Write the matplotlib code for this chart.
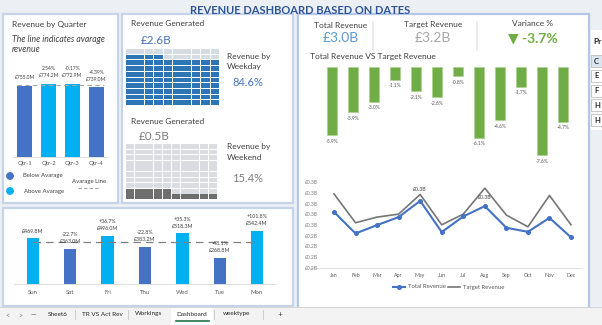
import matplotlib
matplotlib.use("Agg")
import matplotlib.pyplot as plt
from matplotlib.patches import Rectangle, Circle

plt.rcParams['font.family'] = ['Lato', 'DejaVu Sans']

# ---------------- data ----------------
quarters = ['Qtr-1', 'Qtr-2', 'Qtr-3', 'Qtr-4']
q_rev = [755.0, 774.2, 772.9, 739.0]          # £M
q_pct = ['', '2.54%', '-0.17%', '-4.39%']

waffle_pct = [84.6, 15.4]                      # weekday, weekend
waffle_amount = ['£2.6B', '£0.5B']

days = ['Sun', 'Sat', 'Fri', 'Thu', 'Wed', 'Tue', 'Mon']
day_rev = [469.8, 363.0, 496.0, 383.2, 518.3, 268.8, 542.4]   # £M
day_pct = ['', '-22.7%', '+36.7%', '-22.8%', '+35.3%', '-48.1%', '+101.8%']

months = ['Jan', 'Feb', 'Mar', 'Apr', 'May', 'Jun', 'Jul', 'Aug', 'Sep', 'Oct', 'Nov', 'Dec']
var_pct = [-5.9, -3.9, -3.0, -1.1, -2.1, -2.6, -0.8, -6.1, -4.6, -1.7, -7.6, -4.7]
total_rev = [0.2623, 0.2421, 0.2499, 0.2574, 0.2726, 0.2434, 0.2580, 0.2677, 0.2474, 0.2436, 0.2567, 0.2384]  # £B
target_rev = [0.2792, 0.2521, 0.2574, 0.2602, 0.2786, 0.2502, 0.2602, 0.2845, 0.2593, 0.2483, 0.2777, 0.2502]  # £B
line_yticks = [0.21, 0.22, 0.23, 0.24, 0.25, 0.26, 0.27, 0.28, 0.29]
line_yticklabels = ['£0.2B', '£0.2B', '£0.2B', '£0.2B', '£0.3B', '£0.3B', '£0.3B', '£0.3B', '£0.3B']

kpi_total = '£3.0B'
kpi_target = '£3.2B'
kpi_var = '-3.7%'

slicer_items = ['C', 'E', 'F', 'H', 'H']
tabs = ['Sheet6', 'TR VS Act Rev', 'Workings', 'Dashboard', 'weektype']

# ---------------- colours ----------------
DARK_BLUE = '#4472C4'
LIGHT_BLUE = '#00B0F0'
GREEN = '#70AD47'
TXT = '#404040'
GRAYTXT = '#7f7f7f'
BORDER = '#c5d4ea'

W, H = 602, 325
fig = plt.figure(figsize=(W / 100, H / 100), dpi=100)
fig.patch.set_facecolor('#eceff4')

bg = fig.add_axes([0, 0, 1, 1])
bg.set_xlim(0, W)
bg.set_ylim(H, 0)
bg.axis('off')


def px_axes(x0, y0, x1, y1):
    ax = fig.add_axes([x0 / W, 1 - y1 / H, (x1 - x0) / W, (y1 - y0) / H])
    ax.patch.set_alpha(0)
    return ax


def panel(x0, y0, x1, y1, ec=BORDER):
    bg.add_patch(Rectangle((x0, y0), x1 - x0, y1 - y0, facecolor='white',
                           edgecolor=ec, lw=1.6))


def t(x, y, s, size=6, color=TXT, ha='left', va='center', **kw):
    bg.text(x, y, s, fontsize=size, color=color, ha=ha, va=va, **kw)


# ---------------- title ----------------
t(300, 10, 'REVENUE DASHBOARD BASED ON DATES', size=8, color='#2F5597',
  ha='center', weight='bold')

# ---------------- panels ----------------
panel(3, 14, 118, 203)
panel(122, 14, 293, 203)
panel(3, 208, 293, 306)
panel(298, 14, 589, 309, ec='#b4c7e7')
bg.add_patch(Rectangle((591, 30), 12, 100, facecolor='white', edgecolor='none'))

# ---------------- quarter panel ----------------
t(12, 24, 'Revenue by Quarter', size=6)
t(12, 39, 'The line indicates avarage', size=6.2, style='italic')
t(12, 50, 'revenue', size=6.2, style='italic')

axq = px_axes(13, 70, 108, 157)
q_avg = sum(q_rev) / len(q_rev)
q_cols = [DARK_BLUE if v < q_avg else LIGHT_BLUE for v in q_rev]
xq = list(range(len(quarters)))
axq.bar(xq, q_rev, width=0.63, color=q_cols)
axq.set_xlim(-0.5, 3.5)
axq.set_ylim(0, 920)
axq.plot([-0.33, 3.33], [q_avg, q_avg], ls=(0, (4, 3)), color='#a6a6a6', lw=0.8)
for i, v in enumerate(q_rev):
    axq.annotate(f'£{v:.1f}M', (i, v), xytext=(0, 8), textcoords='offset pixels',
                 ha='center', va='center', fontsize=3.6, color=TXT)
    if q_pct[i]:
        axq.annotate(q_pct[i], (i, v), xytext=(0, 15), textcoords='offset pixels',
                     ha='center', va='center', fontsize=3.6, color=TXT)
axq.set_yticks([])
axq.set_xticks(xq)
axq.set_xticklabels(quarters, fontsize=4.3, color='#595959')
axq.tick_params(axis='x', length=0, pad=3)
for s in ['top', 'right', 'left']:
    axq.spines[s].set_visible(False)
axq.spines['bottom'].set_color('#d9d9d9')
axq.spines['bottom'].set_linewidth(0.6)

bg.add_patch(Circle((10, 176), 3.2, color=DARK_BLUE))
bg.add_patch(Circle((10, 191), 3.2, color=LIGHT_BLUE))
t(23, 176, 'Below Avarage', size=4.3)
t(24, 191, 'Above Avarage', size=4.3)
t(89, 182, 'Avarage Line', size=4.3, ha='center')
bg.plot([78, 100], [188, 188], ls=(0, (3, 2)), color='#a6a6a6', lw=0.8)

# ---------------- waffle panel ----------------
def waffle(x0, y0, w, h, pct, fill_col, empty_col):
    n = int(pct)
    cw, ch = w / 10, h / 10
    k = 0
    for r in range(9, -1, -1):
        for c in range(10):
            col = fill_col if k < n else empty_col
            bg.add_patch(Rectangle((x0 + c * cw, y0 + r * ch), cw - 0.9, ch - 0.9,
                                   facecolor=col, edgecolor='none'))
            k += 1


t(131, 24, 'Revenue Generated', size=6)
t(141, 40, waffle_amount[0], size=8.5, color=DARK_BLUE)
waffle(126, 49, 94, 57, waffle_pct[0], '#2E75B6', '#d6dce4')
t(227, 56, 'Revenue by', size=6)
t(227, 67, 'Weekday', size=6)
t(248, 83, f'{waffle_pct[0]:.1f}%', size=8, color=DARK_BLUE, ha='center')

t(131, 122, 'Revenue Generated', size=6)
waffle(126, 144, 92, 56, waffle_pct[1], '#6e6e6e', '#d9dce1')
bg.add_patch(Rectangle((124, 130), 56, 14, facecolor='white', edgecolor='none'))
t(139, 137, waffle_amount[1], size=8.5, color=GRAYTXT)
t(227, 147, 'Revenue by', size=6)
t(227, 158, 'Weekend', size=6)
t(248, 178, f'{waffle_pct[1]:.1f}%', size=8, color=GRAYTXT, ha='center')

# ---------------- weekday panel ----------------
axd = px_axes(14.3, 218, 275.7, 284)
d_avg = sum(day_rev) / len(day_rev)
d_cols = [DARK_BLUE if v < d_avg else LIGHT_BLUE for v in day_rev]
xd = list(range(len(days)))
axd.bar(xd, day_rev, width=0.33, color=d_cols)
axd.set_xlim(-0.5, 6.5)
axd.set_ylim(0, 675)
axd.plot([0, 6], [d_avg, d_avg], ls=(0, (6, 4)), color='#808080', lw=0.9)
for i, v in enumerate(day_rev):
    axd.annotate(f'£{v:.1f}M', (i, v), xytext=(0, 7), textcoords='offset pixels',
                 ha='center', va='center', fontsize=3.8, color=TXT)
    if day_pct[i]:
        axd.annotate(day_pct[i], (i, v), xytext=(0, 14), textcoords='offset pixels',
                     ha='center', va='center', fontsize=3.8, color=TXT)
axd.set_yticks([])
axd.set_xticks(xd)
axd.set_xticklabels(days, fontsize=4.3, color='#595959')
axd.tick_params(axis='x', length=0, pad=4)
for s in ['top', 'right', 'left']:
    axd.spines[s].set_visible(False)
axd.spines['bottom'].set_color('#d9d9d9')
axd.spines['bottom'].set_linewidth(0.6)

# ---------------- KPIs ----------------
t(341, 25, 'Total Revenue', size=6, ha='center')
t(341, 38, kpi_total, size=10, color='#5B9BD5', ha='center')
t(433, 25, 'Target Revenue', size=6, ha='center')
t(433, 38, kpi_target, size=10, color='#a6a6a6', ha='center')
t(533, 24, 'Variance %', size=6, ha='center')
t(533, 38, '▼ ' + kpi_var, size=10, color=GREEN, ha='center', weight='bold')
bg.plot([373, 373], [22, 50], color='#ececec', lw=1.5)
bg.plot([477, 477], [22, 50], color='#ececec', lw=1.5)

t(310, 57, 'Total Revenue VS Target Revenue', size=6)

# ---------------- variance bars ----------------
axv = px_axes(321.5, 67, 573.5, 172)
xm = list(range(len(months)))
axv.bar(xm, var_pct, width=0.52, color=GREEN, edgecolor='#a9d18e', lw=0.4)
axv.set_xlim(-0.5, 11.5)
axv.set_ylim(-9.05, 0)
for i, v in enumerate(var_pct):
    axv.annotate(f'{v:.1f}%', (i, v), xytext=(0, -6), textcoords='offset pixels',
                 ha='center', va='center', fontsize=3.6, color='#595959')
axv.axis('off')

# ---------------- line chart ----------------
axl = px_axes(323.2, 182.3, 581.8, 267.7)
axl.plot(xm, target_rev, color='#767676', lw=1.2, clip_on=False)
axl.plot(xm, total_rev, color=DARK_BLUE, lw=1.5, marker='o', ms=2.6, clip_on=False)
axl.set_xlim(-0.5, 11.5)
axl.set_ylim(line_yticks[0], line_yticks[-1])
axl.set_yticks(line_yticks)
axl.set_yticklabels(line_yticklabels, fontsize=3.6, color='#7f7f7f')
axl.set_xticks(xm)
axl.set_xticklabels(months, fontsize=3.8, color='#595959')
axl.tick_params(length=0, pad=4)
axl.tick_params(axis='y', pad=4)
for s in ['top', 'right', 'left', 'bottom']:
    axl.spines[s].set_visible(False)
axl.annotate(f'£{target_rev[4]:.1f}B', (4, target_rev[4]), xytext=(0, 5),
             textcoords='offset pixels', ha='center', va='center', fontsize=3.8, color=TXT)
axl.annotate(f'£{total_rev[7]:.1f}B', (7, total_rev[7]), xytext=(0, 9),
             textcoords='offset pixels', ha='center', va='center', fontsize=3.8, color=TXT)
bg.plot([310, 582], [267.7, 267.7], color='#d9d9d9', lw=0.6)

bg.plot([393, 405], [287, 287], color=DARK_BLUE, lw=1.5)
bg.plot([399], [287], marker='o', ms=2.6, color=DARK_BLUE)
t(408, 287, 'Total Revenue', size=4.3, color='#595959')
bg.plot([448, 460], [287, 287], color='#767676', lw=1.2)
t(463, 287, 'Target Revenue', size=4.3, color='#595959')

# ---------------- slicer (cut off) ----------------
t(593, 42, 'Pr', size=6, weight='bold', color='#262626')
for i, s in enumerate(slicer_items):
    yc = 61 + i * 14.8
    fc = '#dbe5f1' if i == 0 else 'white'
    bg.add_patch(Rectangle((591, yc - 6), 14, 12, facecolor=fc, edgecolor='#bfbfbf', lw=0.6))
    t(594, yc, s, size=5.5, weight='bold', color='#262626')

# ---------------- sheet tabs ----------------
bg.add_patch(Rectangle((0, 307), W, 18, facecolor='#f3f3f3', edgecolor='none'))
bg.plot([0, W], [307, 307], color='#d0d0d0', lw=0.6)
t(5, 315, '<', size=5, color='#7f7f7f')
t(18, 315, '>', size=5, color='#7f7f7f')
t(33, 315, '—', size=5, color='#404040', ha='center')
tab_x = [58, 102, 149, 192, 237]
for i, (name, xc) in enumerate(zip(tabs, tab_x)):
    if name == 'Dashboard':
        bg.add_patch(Rectangle((171, 308), 42, 17, facecolor='white', edgecolor='none'))
        bg.plot([176, 209], [320.5, 320.5], color='#217346', lw=1.2)
    t(xc, 314, name, size=4.6, color='#262626', ha='center')
for xs in [75, 128, 214, 263]:
    bg.plot([xs, xs], [310, 319], color='#c8c8c8', lw=0.6)
t(280, 314, '+', size=6, color='#404040', ha='center')

fig.savefig('out.png', dpi=100, facecolor=fig.get_facecolor())
